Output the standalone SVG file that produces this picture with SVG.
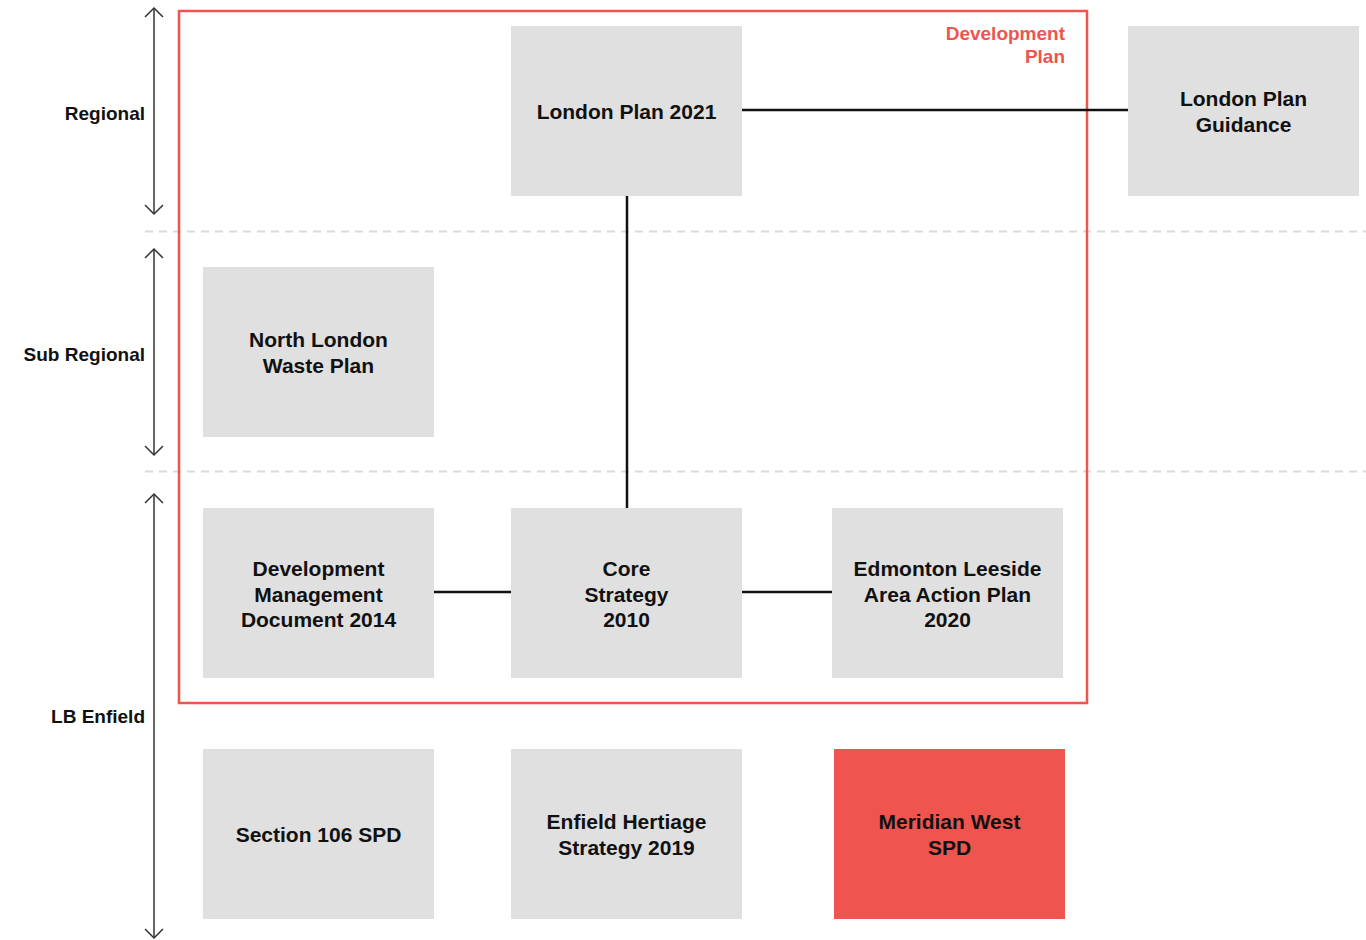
<svg xmlns="http://www.w3.org/2000/svg" width="1366" height="940" viewBox="0 0 1366 940">
<defs>
<style>
.box{fill:#e0e0e0}
.hot{fill:#f0544f}
.t{font-family:"Liberation Sans",Arial,sans-serif;font-weight:bold;font-size:21px;fill:#111;text-anchor:middle}
.lab{font-family:"Liberation Sans",Arial,sans-serif;font-weight:bold;font-size:19px;fill:#111;text-anchor:end}
.conn{stroke:#111;stroke-width:2.5;fill:none}
.dash{stroke:#dadada;stroke-width:2;stroke-dasharray:8 6;fill:none}
.ax{stroke:#333;stroke-width:1.5;fill:none}
</style>
<marker id="ah" viewBox="0 0 20 20" refX="10" refY="10" markerWidth="20" markerHeight="20" markerUnits="userSpaceOnUse" orient="auto-start-reverse">
<path d="M1,1 L10,10 L1,19" fill="none" stroke="#333" stroke-width="1.5"/>
</marker>
</defs>
<rect width="1366" height="940" fill="#fff"/>
<g id="bands">
<line class="dash" x1="145" y1="231.5" x2="1366" y2="231.5"/>
<line class="dash" x1="145" y1="471.5" x2="1366" y2="471.5"/>
</g>
<g id="axes">
<line class="ax" x1="154" y1="8" x2="154" y2="214" marker-start="url(#ah)" marker-end="url(#ah)"/>
<line class="ax" x1="154" y1="249" x2="154" y2="455" marker-start="url(#ah)" marker-end="url(#ah)"/>
<line class="ax" x1="154" y1="494" x2="154" y2="938" marker-start="url(#ah)" marker-end="url(#ah)"/>
<text class="lab" x="145" y="120">Regional</text>
<text class="lab" x="145" y="361">Sub Regional</text>
<text class="lab" x="145" y="723">LB Enfield</text>
</g>
<g id="development-plan">
<rect x="179" y="11" width="908" height="692" fill="none" stroke="#f0544f" stroke-width="2.5"/>
<text x="1065" y="40" font-family="Liberation Sans, Arial, sans-serif" font-weight="bold" font-size="19" fill="#f0544f" text-anchor="end">Development</text>
<text x="1065" y="63" font-family="Liberation Sans, Arial, sans-serif" font-weight="bold" font-size="19" fill="#f0544f" text-anchor="end">Plan</text>
</g>
<g id="connectors">
<line class="conn" x1="742" y1="110" x2="1128" y2="110"/>
<line class="conn" x1="627" y1="196" x2="627" y2="508"/>
<line class="conn" x1="434" y1="592" x2="511" y2="592"/>
<line class="conn" x1="742" y1="592" x2="832" y2="592"/>
</g>
<g id="london-plan-2021">
<rect class="box" x="511" y="26" width="231" height="170"/>
<text class="t" x="626.5" y="119">London Plan 2021</text>
</g>
<g id="london-plan-guidance">
<rect class="box" x="1128" y="26" width="231" height="170"/>
<text class="t" x="1243.5" y="106">London Plan</text>
<text class="t" x="1243.5" y="132">Guidance</text>
</g>
<g id="north-london-waste-plan">
<rect class="box" x="203" y="267" width="231" height="170"/>
<text class="t" x="318.5" y="347">North London</text>
<text class="t" x="318.5" y="373">Waste Plan</text>
</g>
<g id="development-management">
<rect class="box" x="203" y="508" width="231" height="170"/>
<text class="t" x="318.5" y="576">Development</text>
<text class="t" x="318.5" y="601.5">Management</text>
<text class="t" x="318.5" y="627">Document 2014</text>
</g>
<g id="core-strategy">
<rect class="box" x="511" y="508" width="231" height="170"/>
<text class="t" x="626.5" y="576">Core</text>
<text class="t" x="626.5" y="601.5">Strategy</text>
<text class="t" x="626.5" y="627">2010</text>
</g>
<g id="edmonton-leeside">
<rect class="box" x="832" y="508" width="231" height="170"/>
<text class="t" x="947.5" y="576">Edmonton Leeside</text>
<text class="t" x="947.5" y="601.5">Area Action Plan</text>
<text class="t" x="947.5" y="627">2020</text>
</g>
<g id="section-106">
<rect class="box" x="203" y="749" width="231" height="170"/>
<text class="t" x="318.5" y="842">Section 106 SPD</text>
</g>
<g id="enfield-heritage">
<rect class="box" x="511" y="749" width="231" height="170"/>
<text class="t" x="626.5" y="829">Enfield Hertiage</text>
<text class="t" x="626.5" y="855">Strategy 2019</text>
</g>
<g id="meridian-west">
<rect class="hot" x="834" y="749" width="231" height="170"/>
<text class="t" x="949.5" y="829">Meridian West</text>
<text class="t" x="949.5" y="855">SPD</text>
</g>
</svg>
